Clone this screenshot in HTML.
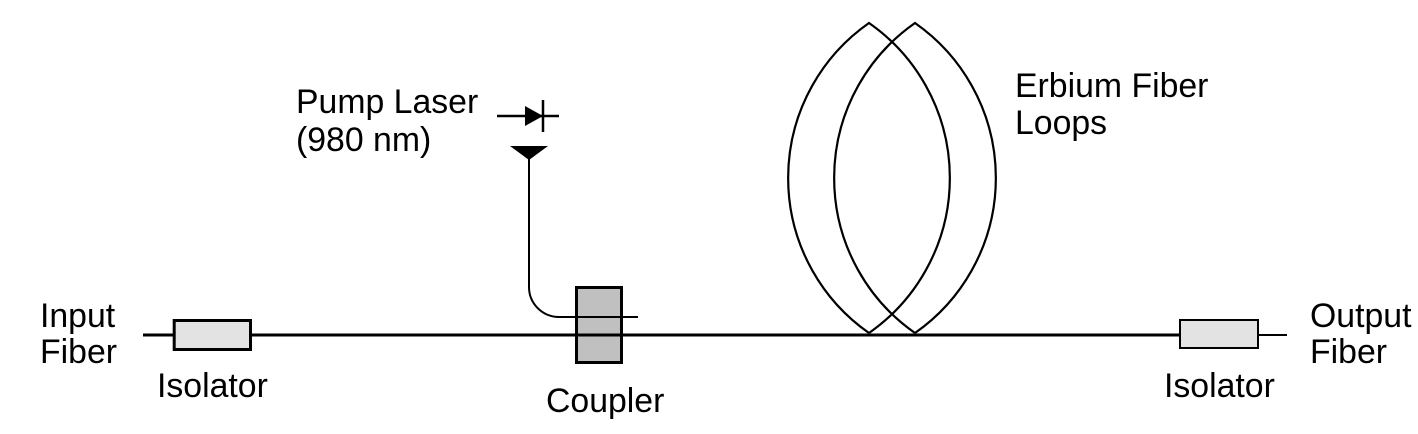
<!DOCTYPE html>
<html>
<head>
<meta charset="utf-8">
<style>
html,body{margin:0;padding:0;background:#fff;}
svg{display:block;}
text{font-family:"Liberation Sans",Arial,sans-serif;font-size:33.8px;fill:#000;}
</style>
</head>
<body>
<svg width="1418" height="434" viewBox="0 0 1418 434" xmlns="http://www.w3.org/2000/svg">
  <rect width="1418" height="434" fill="#fff"/>

  <!-- Erbium fiber loops (lenses) -->
  <g fill="none" stroke="#000" stroke-width="2.2">
    <path d="M869,333 A189,189 0 0 1 869,23 A189,189 0 0 1 869,333"/>
    <path d="M915,333 A189,189 0 0 1 915,23 A189,189 0 0 1 915,333"/>
  </g>

  <!-- coupler box -->
  <rect x="576.5" y="287.5" width="45" height="75" fill="#c0c0c0" stroke="#000" stroke-width="3"/>

  <!-- main fiber -->
  <line x1="143" y1="335" x2="1180" y2="335" stroke="#000" stroke-width="3"/>
  <line x1="1258" y1="335" x2="1287" y2="335" stroke="#000" stroke-width="2"/>

  <!-- left isolator -->
  <rect x="174.2" y="320.5" width="76.3" height="29" fill="#e3e3e3" stroke="#000" stroke-width="3"/>
  <!-- right isolator -->
  <rect x="1180" y="320" width="78" height="28" fill="#e3e3e3" stroke="#000" stroke-width="2"/>

  <!-- pump fiber -->
  <path d="M529,158 L529,287 A30,30 0 0 0 559,317 L638,317" fill="none" stroke="#000" stroke-width="2"/>
  <polygon points="510,146 548,146 529,160" fill="#000"/>

  <!-- diode symbol -->
  <line x1="497" y1="116" x2="559" y2="116" stroke="#000" stroke-width="2.5"/>
  <polygon points="525,106 525,126 543,116" fill="#000"/>
  <line x1="543" y1="100" x2="543" y2="132" stroke="#000" stroke-width="2.5"/>

  <!-- labels -->
  <text x="296" y="113">Pump Laser</text>
  <text x="296" y="151">(980 nm)</text>
  <text x="1015" y="97">Erbium Fiber</text>
  <text x="1015" y="134">Loops</text>
  <text x="40" y="327">Input</text>
  <text x="40" y="363">Fiber</text>
  <text x="157" y="397">Isolator</text>
  <text x="546" y="412">Coupler</text>
  <text x="1164" y="397">Isolator</text>
  <text x="1310" y="327">Output</text>
  <text x="1310" y="363">Fiber</text>
</svg>
</body>
</html>
